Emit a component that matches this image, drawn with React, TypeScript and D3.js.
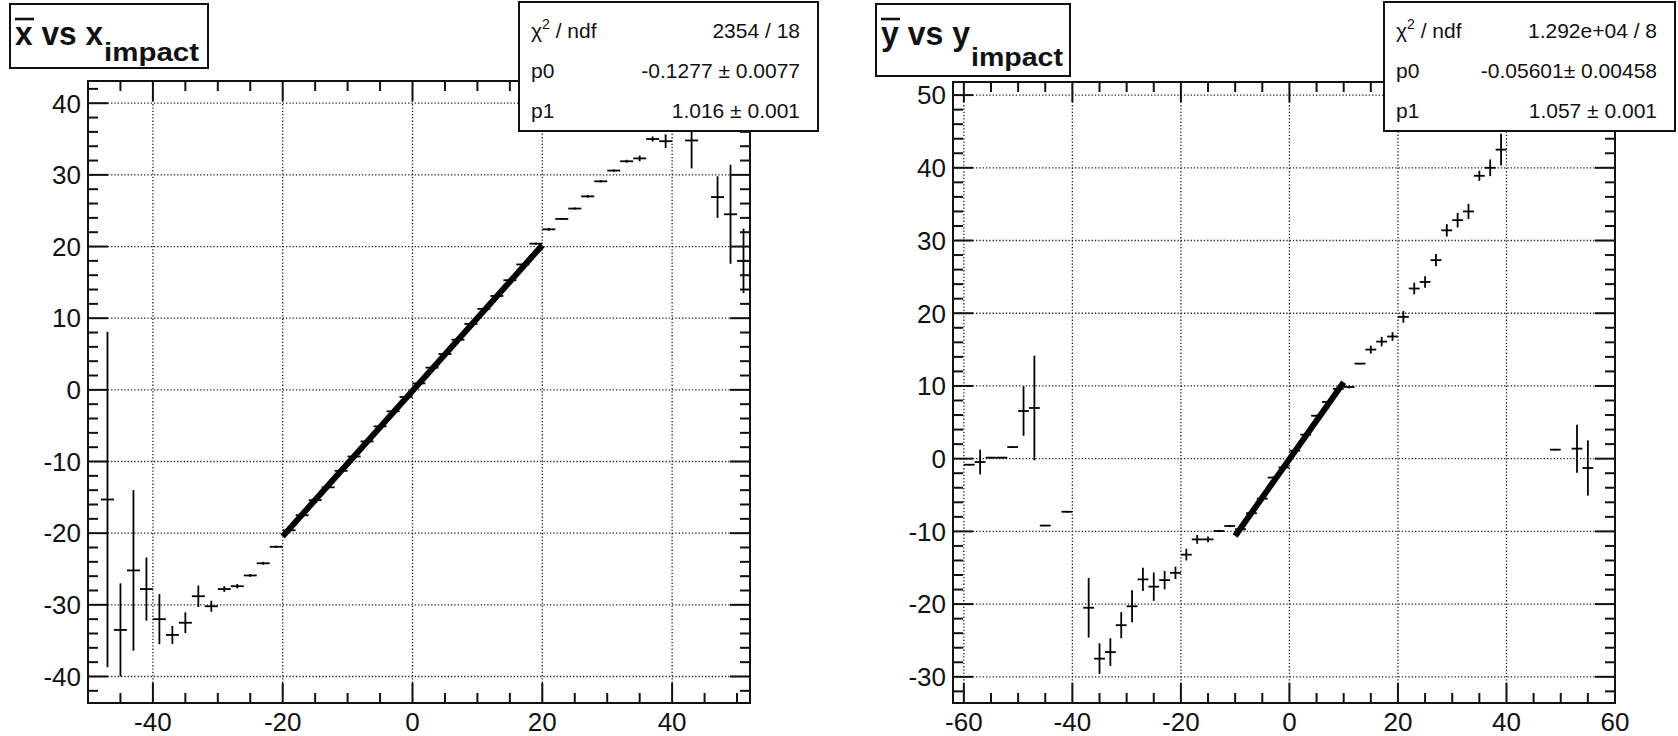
import React from "react";
import * as d3 from "d3";

// left pad: mean reconstructed x vs x impact (2 unit bins)
const xImpact = [
  -47, -45, -43, -41, -39, -37, -35, -33, -31, -29, -27, -25, -23, -21,
  -19, -17, -15, -13, -11, -9, -7, -5, -3, -1, 1, 3, 5, 7, 9, 11, 13, 15, 17, 19,
  21, 23, 25, 27, 29, 31, 33, 35, 37, 39, 43, 47, 49, 51,
];
const xMean = [
  -15.3, -33.5, -25.2, -27.8, -32.0, -34.2, -32.5, -28.8, -30.2, -27.8, -27.4, -25.9, -24.2, -21.9,
  -19.6, -17.5, -15.4, -13.6, -11.3, -9.3, -7.2, -5.1, -3.0, -1.0, 0.9, 3.1, 5.0, 7.0, 9.2, 11.3, 13.1, 15.3, 17.5, 20.4,
  22.4, 23.85, 25.3, 27.0, 29.1, 30.6, 31.9, 32.3, 35.0, 34.7, 34.8, 26.9, 24.5, 18.0,
];
const xErr = [
  23.4, 6.5, 11.2, 4.4, 3.5, 1.25, 1.45, 1.5, 0.77, 0.4, 0.3, 0.2, 0.2, 0.15,
  0.15, 0.15, 0.12, 0.12, 0.1, 0.1, 0.1, 0.1, 0.1, 0.1, 0.1, 0.1, 0.1, 0.1, 0.1, 0.1, 0.12, 0.12, 0.15, 0.15,
  0.2, 0.15, 0.15, 0.2, 0.15, 0.15, 0.2, 0.4, 0.35, 0.95, 3.9, 2.9, 6.9, 4.5,
];

// right pad: mean reconstructed y vs y impact
const yImpact = [
  -59, -57, -55, -53, -51, -49, -47, -45, -41, -37, -35, -33, -31, -29, -27, -25, -23, -21, -19, -17, -15, -13, -11,
  -9, -7, -5, -3, -1, 1, 3, 5, 7, 9,
  11, 13, 15, 17, 19, 21, 23, 25, 27, 29, 31, 33, 35, 37, 39, 49, 53, 55,
];
const yMean = [
  -0.83, -0.46, 0.14, 0.14, 1.6, 6.55, 6.97, -9.2, -7.3, -20.5, -27.5, -26.6, -22.9, -20.3, -16.6, -17.6, -16.7, -15.7, -13.2, -11.1, -11.1, -9.95, -9.26,
  -9.7, -7.5, -5.5, -2.6, -1.2, 1.1, 3.3, 5.9, 7.8, 9.6,
  9.86, 13.07, 15.0, 16.1, 16.8, 19.5, 23.4, 24.3, 27.3, 31.4, 32.8, 34.0, 38.9, 40.0, 42.5, 1.24, 1.38, -1.28,
];
const yErr = [
  0.1, 1.7, 0.1, 0.1, 0.1, 3.4, 7.2, 0.1, 0.1, 4.1, 2.1, 1.9, 1.8, 2.2, 1.6, 1.95, 1.26, 0.85, 0.8, 0.6, 0.4, 0.15, 0.15,
  0.15, 0.15, 0.15, 0.12, 0.1, 0.1, 0.12, 0.15, 0.15, 0.15,
  0.2, 0.1, 0.55, 0.65, 0.6, 0.8, 0.8, 0.8, 0.85, 0.85, 1.0, 1.05, 0.7, 1.15, 2.2, 0.1, 3.3, 3.8,
];

const binHalf = 1;

// pol1 fits
const xFit = { p0: -0.1277, p1: 1.016, range: [-20, 20] };
const yFit = { p0: -0.05601, p1: 1.057, range: [-10, 10] };

const xStats = [
  ["chi", "2354 / 18"],
  ["p0", "-0.1277 \u00b1 0.0077"],
  ["p1", "1.016 \u00b1 0.001"],
];
const yStats = [
  ["chi", "1.292e+04 / 8"],
  ["p0", "-0.05601\u00b1 0.00458"],
  ["p1", "1.057 \u00b1 0.001"],
];

const FONT = "'Liberation Sans', Arial, Helvetica, sans-serif";

function ticksOf(domain, step) {
  const start = Math.ceil(domain[0] / step - 1e-9) * step;
  return d3.range(start, domain[1] + 1e-9, step);
}

function Panel({ id, frame, xDomain, yDomain, xMajor, xMinor, yMajor, yMinor, cx, mean, err, fit, stats, statsBox, titleBox, title }) {
  const x = d3.scaleLinear().domain(xDomain).range([frame.left, frame.right]);
  const y = d3.scaleLinear().domain(yDomain).range([frame.bottom, frame.top]);

  const xMaj = ticksOf(xDomain, xMajor);
  const xMin = ticksOf(xDomain, xMinor).filter((v) => !xMaj.some((m) => Math.abs(m - v) < 1e-6));
  const yMaj = ticksOf(yDomain, yMajor);
  const yMin = ticksOf(yDomain, yMinor).filter((v) => !yMaj.some((m) => Math.abs(m - v) < 1e-6));

  const fitLine = d3.line().x((d) => x(d)).y((d) => y(fit.p0 + fit.p1 * d));

  const tickLen = 20, minorLen = 10;

  return (
    <g>
      <defs>
        <clipPath id={id}>
          <rect x={frame.left} y={frame.top} width={frame.right - frame.left} height={frame.bottom - frame.top} />
        </clipPath>
      </defs>

      {/* grid */}
      <g stroke="#222" strokeWidth={1.3} strokeDasharray="1.3 2">
        {xMaj.filter((v) => x(v) > frame.left + 2 && x(v) < frame.right - 2).map((v) => (
          <line key={"gx" + v} x1={x(v)} x2={x(v)} y1={frame.top} y2={frame.bottom} />
        ))}
        {yMaj.filter((v) => y(v) > frame.top + 2 && y(v) < frame.bottom - 2).map((v) => (
          <line key={"gy" + v} x1={frame.left} x2={frame.right} y1={y(v)} y2={y(v)} />
        ))}
      </g>

      {/* profile points */}
      <g clipPath={`url(#${id})`} stroke="#000" strokeWidth={1.8}>
        {cx.map((c, i) => (
          <g key={i}>
            <line x1={x(c - binHalf)} x2={x(c + binHalf)} y1={y(mean[i])} y2={y(mean[i])} />
            <line x1={x(c)} x2={x(c)} y1={y(mean[i] - err[i])} y2={y(mean[i] + err[i])} />
          </g>
        ))}
        <path d={fitLine(fit.range)} fill="none" strokeWidth={6} />
      </g>

      {/* axis ticks */}
      <g stroke="#111" strokeWidth={2}>
        {xMaj.map((v) => (
          <g key={"tx" + v}>
            <line x1={x(v)} x2={x(v)} y1={frame.bottom} y2={frame.bottom - tickLen} />
            <line x1={x(v)} x2={x(v)} y1={frame.top} y2={frame.top + tickLen} />
          </g>
        ))}
        {xMin.map((v) => (
          <g key={"mx" + v}>
            <line x1={x(v)} x2={x(v)} y1={frame.bottom} y2={frame.bottom - minorLen} />
            <line x1={x(v)} x2={x(v)} y1={frame.top} y2={frame.top + minorLen} />
          </g>
        ))}
        {yMaj.map((v) => (
          <g key={"ty" + v}>
            <line x1={frame.left} x2={frame.left + tickLen} y1={y(v)} y2={y(v)} />
            <line x1={frame.right} x2={frame.right - tickLen} y1={y(v)} y2={y(v)} />
          </g>
        ))}
        {yMin.map((v) => (
          <g key={"my" + v}>
            <line x1={frame.left} x2={frame.left + minorLen} y1={y(v)} y2={y(v)} />
            <line x1={frame.right} x2={frame.right - minorLen} y1={y(v)} y2={y(v)} />
          </g>
        ))}
      </g>
      <rect x={frame.left} y={frame.top} width={frame.right - frame.left} height={frame.bottom - frame.top}
        fill="none" stroke="#111" strokeWidth={2} />

      {/* tick labels */}
      <g fontFamily={FONT} fontSize={26} fill="#111">
        {xMaj.map((v) => (
          <text key={"lx" + v} x={x(v)} y={frame.bottom + 28} textAnchor="middle">{v}</text>
        ))}
        {yMaj.map((v) => (
          <text key={"ly" + v} x={frame.left - 7} y={y(v) + 9.3} textAnchor="end">{v}</text>
        ))}
      </g>

      {/* title box */}
      <rect x={titleBox.x} y={titleBox.y} width={titleBox.w} height={titleBox.h} fill="#fff" stroke="#111" strokeWidth={2} />
      {title}

      {/* stats box */}
      <rect x={statsBox.x} y={statsBox.y} width={statsBox.w} height={statsBox.h} fill="#fff" stroke="#111" strokeWidth={2} />
      <g fontFamily={FONT} fontSize={21} fill="#111">
        {stats.map((s, i) => {
          const base = 38 + i * 40;
          return (
            <g key={i}>
              <text x={statsBox.x + 12} y={base}>
                {s[0] === "chi" ? (
                  <>
                    {"\u03c7"}
                    <tspan fontSize={14} dy={-9}>2</tspan>
                    <tspan dy={9}>{" / ndf"}</tspan>
                  </>
                ) : s[0]}
              </text>
              <text x={statsBox.x + statsBox.w - 18} y={base} textAnchor="end">{s[1]}</text>
            </g>
          );
        })}
      </g>
    </g>
  );
}

function Title({ letter, x0, mainEnd, subEnd, base, subBase }) {
  return (
    <g fontFamily={FONT} fontWeight="bold" fill="#111">
      <text x={x0} y={base} fontSize={34} textLength={mainEnd - x0} lengthAdjust="spacingAndGlyphs">
        {`${letter} vs ${letter}`}
      </text>
      <text x={mainEnd + 1} y={subBase} fontSize={26} textLength={subEnd - mainEnd - 1} lengthAdjust="spacingAndGlyphs">
        impact
      </text>
      <line x1={x0} x2={x0 + 19} y1={19} y2={19} stroke="#111" strokeWidth={2.6} />
    </g>
  );
}

export default function App() {
  return (
    <svg width={1678} height={736} style={{ position: "absolute", left: 0, top: 0, background: "#fff" }}>
      <rect width={1678} height={736} fill="#fff" />
      <Panel
        id="clipL"
        frame={{ left: 88, right: 750, top: 81, bottom: 703 }}
        xDomain={[-50, 52]}
        yDomain={[-43.7, 43.1]}
        xMajor={20}
        xMinor={5}
        yMajor={10}
        yMinor={2}
        cx={xImpact}
        mean={xMean}
        err={xErr}
        fit={xFit}
        stats={xStats}
        statsBox={{ x: 519, y: 2, w: 299, h: 129 }}
        titleBox={{ x: 10, y: 4, w: 198, h: 64 }}
        title={<Title letter="x" x0={15} mainEnd={103} subEnd={199} base={45} subBase={61} />}
      />
      <Panel
        id="clipR"
        frame={{ left: 953, right: 1615, top: 82, bottom: 703 }}
        xDomain={[-62, 60]}
        yDomain={[-33.6, 51.8]}
        xMajor={20}
        xMinor={5}
        yMajor={10}
        yMinor={2}
        cx={yImpact}
        mean={yMean}
        err={yErr}
        fit={yFit}
        stats={yStats}
        statsBox={{ x: 1384, y: 2, w: 291, h: 129 }}
        titleBox={{ x: 876, y: 4, w: 194, h: 72 }}
        title={<Title letter="y" x0={881} mainEnd={970} subEnd={1063} base={45} subBase={66} />}
      />
    </svg>
  );
}
